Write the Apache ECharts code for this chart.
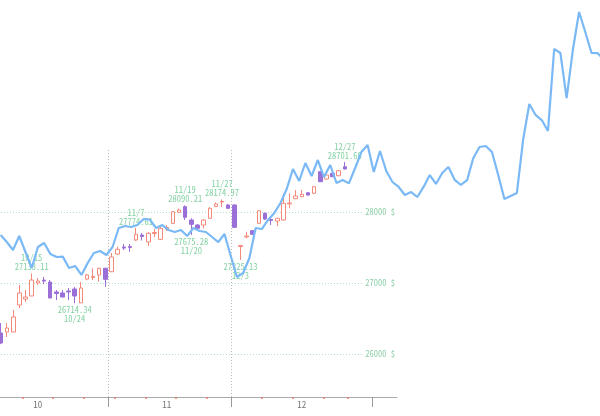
<!DOCTYPE html>
<html><head><meta charset="utf-8">
<script src="https://cdn.jsdelivr.net/npm/echarts@6/dist/echarts.min.js"></script>
<style>html,body{margin:0;padding:0;background:#fff}#c{width:600px;height:416px}</style>
</head><body><div id="c"></div>
<script>
// Trading days (category axis)
const dates = ['10/8','10/9','10/10','10/11','10/14','10/15','10/16','10/17','10/18','10/21',
  '10/22','10/23','10/24','10/25','10/28','10/29','10/30','10/31','11/1','11/4',
  '11/5','11/6','11/7','11/8','11/11','11/12','11/13','11/14','11/15','11/18',
  '11/19','11/20','11/21','11/22','11/25','11/26','11/27','11/29','12/2','12/3',
  '12/4','12/5','12/6','12/9','12/10','12/11','12/12','12/13','12/16','12/17',
  '12/18','12/19','12/20','12/23','12/24','12/26','12/27','12/30','12/31','1/1',
  '1/2','1/3','1/6','1/7','1/8'];
const openP  = [26297,26311,26311,26690,26774,26817,27000,27041,27013,26873,26859,26887,26915,26720,27055,27077,27112,27206,27158,27407,
  27505,27512,27604,27674,27576,27695,27613,27758,27838,27993,28072,27885,27814,27814,27909,28074,28138,28096,28096,27512,
  27646,27734,27838,27979,27892,27871,27885,28112,28184,28212,28268,28260,28564,28461,28541,28507,28634];
const closeP = [26156,26367,26522,26859,26802,27041,27027,27027,26788,26852,26802,26873,26817,26929,27112,27091,27206,27051,27365,27473,
  27491,27498,27684,27653,27698,27709,27768,27779,28001,28025,27923,27824,27768,27885,28049,28110,28145,28049,27782,27526,
  27660,27684,28015,27899,27878,27909,28119,28124,28222,28246,28236,28353,28423,28517,28493,28578,28602];
const lowP   = [26140,26240,26311,26648,26732,26817,26971,26985,26788,26760,26802,26760,26714.34,26720,27041,27041,27018,26947,27154,27393,
  27463,27439,27590,27597,27519,27646,27604,27730,27829,27990,27885,27675.28,27734,27768,27899,28067,28072,28046,27779,27325.13,
  27628,27681,27829,27885,27814,27800,27878,28049,28180,28208,28229,28257,28419,28454,28489,28503,28595];
const highP  = [26437,26437,26620,26971,26901,27133.11,27070,27084,27041,26901,26901,26929,26943,27013,27126,27203,27214,27214,27421,27509,
  27547,27547,27774.61,27702,27716,27758,27800,27814,28011,28046,28090.21,27909,27829,27899,28067,28131,28174.97,28110,28103,27533,
  27720,27744,28025,27990,27913,27913,28260,28260,28306,28306,28278,28363,28573,28524,28545,28587,28701.66];
// Blue line values
const lineValues = [27674,27575,27463,27660,27435,27210,27505,27561,27407,27365,27370,27210,27238,27112,27280,27421,27449,27393,27505,27772,
  27800,27786,27814,27899,27890,27772,27814,27744,27716,27744,27660,27772,27730,27716,27646,27575,27688,27379,27084,27140,
  27351,27772,27758,27885,27983,28124,28320,28602,28433,28686,28503,28728,28489,28658,28405,28447,28400,28616,28840,28939,
  28559,28855,28573,28419,28349,28236,28278,28208,28350,28517,28391,28545,28630,28450,28377,28445,28756,28911,28925,28840,
  28517,28180,28222,28264,29009,29515,29361,29290,29136,30288,30232,29599,30274,30808,30527,30232,30230,30134];
// Axis decorations
const monthTickAt = [18, 38, 61];
const monthSplitAt = [18, 38];
const weekTickAt = [4, 9, 14, 19, 24, 29, 34, 43, 48, 53, 57];
const monthLabels = {6: '10', 27: '11', 49: '12'};
const highMarkIdx = [5, 22, 30, 36, 56];
const lowMarkIdx = [12, 31, 39];

const FONT = "'Noto Sans Mono CJK JP','Noto Sans Mono CJK SC','DejaVu Sans Mono',monospace";
const CW = 6.14;           // category width in px
const LW = 6.22;           // line point spacing
const Y_MIN = 25397, Y_MAX_C = 28869, Y_MAX_L = 30977;

const bounds = dates.concat(['end']);
const lineDays = lineValues.map((_, i) => String(i));
const candleData = openP.map((o, i) => [o, closeP[i], lowP[i], highP[i]]);
const markGreen = '#84d3a3';
const marks = highMarkIdx.map(i => ({
  coord: [dates[i], highP[i]],
  label: {position: 'top', formatter: dates[i] + '\n' + highP[i].toFixed(2)}
})).concat(lowMarkIdx.map(i => ({
  coord: [dates[i], lowP[i]],
  label: {position: 'bottom', formatter: lowP[i].toFixed(2) + '\n' + dates[i]}
})));

const chart = echarts.init(document.getElementById('c'));
chart.setOption({
  animation: false,
  backgroundColor: '#fff',
  grid: [
    {left: -2.07, top: 150, width: 65 * CW, height: 247, outerBoundsMode: 'none', containLabel: false},
    {left: 0.6, top: 0, width: 97 * LW, height: 397, outerBoundsMode: 'none', containLabel: false}
  ],
  xAxis: [
    {type: 'category', gridIndex: 0, data: dates, boundaryGap: true, position: 'bottom',
     axisLine: {show: true, lineStyle: {color: '#aaa', width: 1}},
     axisTick: {show: false},
     axisLabel: {interval: (i) => i in monthLabels, formatter: (v, i) => monthLabels[i] || '',
       color: '#777', fontSize: 9, margin: 3, fontFamily: FONT},
     splitLine: {show: false}},
    {type: 'category', gridIndex: 0, data: bounds, boundaryGap: false, position: 'bottom',
     axisLine: {show: false}, axisLabel: {show: false},
     axisTick: {show: true, interval: (i) => monthTickAt.includes(i), length: 10, lineStyle: {color: '#999', width: 1}},
     splitLine: {show: true, interval: (i) => monthSplitAt.includes(i), lineStyle: {color: '#bbb', type: [1, 2], width: 1}}},
    {type: 'category', gridIndex: 0, data: bounds, boundaryGap: false, position: 'bottom',
     axisLine: {show: false}, axisLabel: {show: false}, splitLine: {show: false},
     axisTick: {show: true, interval: (i) => weekTickAt.includes(i), length: 2, lineStyle: {color: '#f07a6c', width: 1.5}}},
    {type: 'category', gridIndex: 1, data: lineDays, boundaryGap: false, show: false}
  ],
  yAxis: [
    {type: 'value', gridIndex: 0, position: 'right', min: Y_MIN, max: Y_MAX_C, splitNumber: 3,
     axisLine: {show: false}, axisTick: {show: false},
     axisLabel: {inside: true, margin: 2, showMinLabel: false, showMaxLabel: false,
       formatter: (v) => (v % 1000 === 0 ? v + ' $' : ''),
       color: '#8dcfa8', fontSize: 8.5, fontFamily: FONT, backgroundColor: '#fff', padding: [1, 0, 1, 3]},
     splitLine: {show: true, showMinLine: false, showMaxLine: false, lineStyle: {color: '#b3dec8', type: [1, 2], width: 1}}},
    {type: 'value', gridIndex: 1, min: Y_MIN, max: Y_MAX_L, show: false, splitLine: {show: false}}
  ],
  series: [
    {type: 'candlestick', xAxisIndex: 0, yAxisIndex: 0, data: candleData, barWidth: 4, z: 1, silent: true,
     itemStyle: {color: '#fff', color0: '#9b6fd8', borderColor: '#f5897a', borderColor0: '#9b6fd8', borderWidth: 1},
     markPoint: {symbol: 'circle', symbolSize: 0, silent: true, z: 1,
       label: {show: true, distance: 2, color: markGreen, fontSize: 8.5, lineHeight: 9, fontFamily: FONT},
       data: marks}},
    {type: 'line', xAxisIndex: 3, yAxisIndex: 1, data: lineValues, symbol: 'none', silent: true, z: 5,
     lineStyle: {color: '#7ab9f5', width: 2.2}}
  ]
});
</script></body></html>
